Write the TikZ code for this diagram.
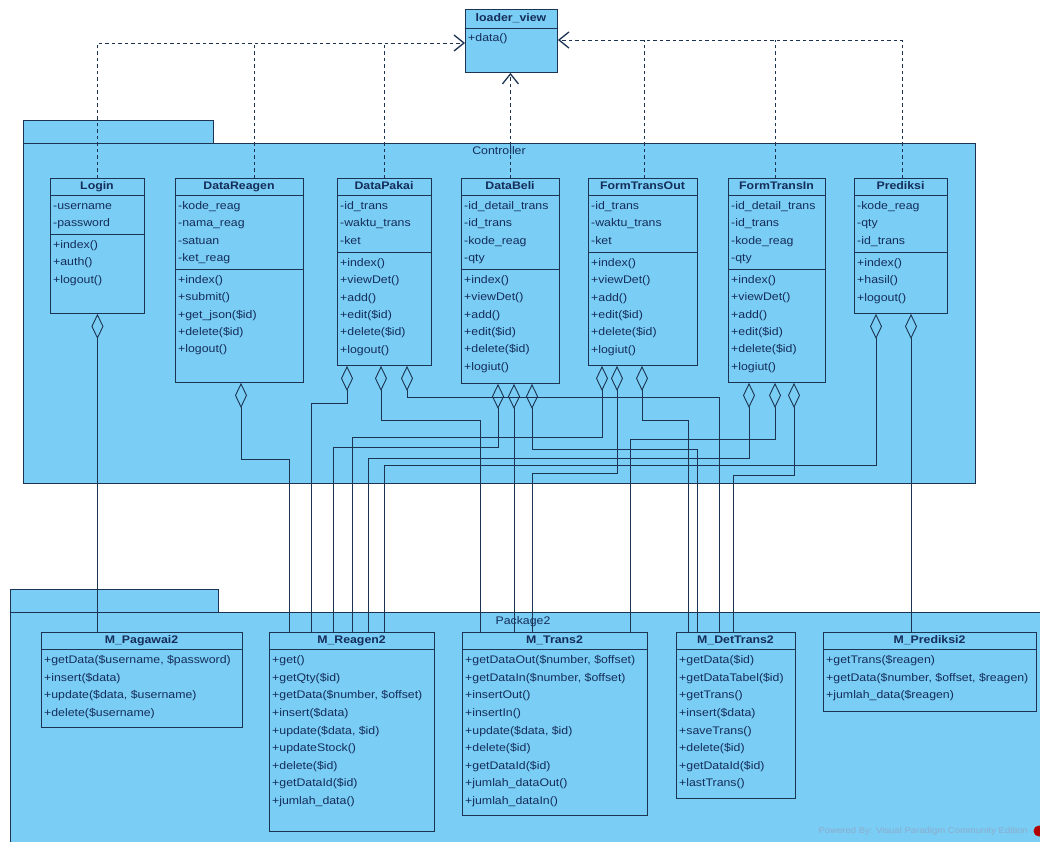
\documentclass[tikz,border=0pt]{standalone}
\usepackage{fontspec}
\newfontfamily\umlf{Liberation Sans}[FakeStretch=1.12]
\usetikzlibrary{arrows.meta,calc}
\definecolor{fillc}{RGB}{122,205,244}
\definecolor{linec}{RGB}{28,52,82}
\definecolor{txtc}{RGB}{20,45,90}
\definecolor{wmc}{RGB}{140,172,205}
\tikzset{
  clsbox/.style={draw=linec, fill=fillc, line width=0.9pt, inner sep=0pt},
  clstitle/.style={font=\umlf\bfseries\fontsize{11}{13}\selectfont, text=txtc, inner sep=0pt, text height=8pt, text depth=2.5pt},
  rowtxt/.style={font=\umlf\fontsize{11}{13}\selectfont, text=txtc, anchor=west, inner sep=0pt, text height=8pt, text depth=2.5pt},
  sepl/.style={draw=linec, line width=0.9pt},
  pkgst/.style={draw=linec, fill=fillc, line width=0.9pt},
  pkgbox/.style={draw=linec, fill=fillc, line width=0.9pt, inner sep=0pt},
  pkglabel/.style={font=\umlf\fontsize{11}{13}\selectfont, text=txtc, inner sep=0pt},
  dep/.style={draw=linec, line width=0.8pt, dash pattern=on 3.5pt off 3pt},
  deparrow/.style={-{Straight Barb[length=10pt,width=16pt,line width=1.3pt]}},
  agg/.style={draw=linec, line width=0.9pt, {Diamond[open,length=25pt,width=12pt,line width=0.9pt]}-},
}
\newcommand\ucls[6]{%
  \node[clsbox,minimum width={#4-#2},minimum height={#5-#3},anchor=north west] (#1) at (#2,#3) {};
  \node[clstitle] at ({(#2+#4)/2},{#3+8.5}) {#6};
  \draw[sepl] (#2,{#3+17}) -- (#4,{#3+17});}
\newcommand\clsep[3]{\draw[sepl] (#1,#3) -- (#2,#3);}
\newcommand\rowsat[4]{\foreach \t [count=\i from 0] in {#4}{\node[rowtxt] at ({#1+3},{#2+\i*#3}) {\t};}}
\begin{document}
\begin{tikzpicture}[x=1pt,y=-1pt]
\fill[white] (0,0) rectangle (1040,841);
\clip (0,0) rectangle (1040,841);
% packages
\draw[pkgst] (23,120) rectangle (213,143);
\node[pkgbox, minimum width=952, minimum height=340, anchor=north west] (ctrl) at (23,143) {};
\node[pkglabel] (ctrlLbl) at (499,151) {Controller};
\draw[pkgst] (10,589) rectangle (218,612);
\node[pkgbox, minimum width=1040, minimum height=240, anchor=north west] (pkg2) at (10,612) {};
\node[pkglabel] (pkg2Lbl) at (523,622) {Package2};
% watermark
\node[font=\umlf\fontsize{8.5}{10}\selectfont, text=wmc, anchor=east, inner sep=0pt] (wm) at (1028,831) {Powered By: Visual Paradigm Community Edition};
\fill[red!70!black] (1039,831) circle (5.5);
% loader_view
\node[clsbox,minimum width=92,minimum height=63,anchor=north west] (lv) at (465,9) {};
\node[clstitle] at (511,18.5) {loader\_view};
\draw[sepl] (465,28) -- (557,28);
\rowsat{465}{39}{17.4}{+data()}
\coordinate (lvL) at ($(lv.north west)+(0,34)$);
\coordinate (lvR) at ($(lv.north east)+(0,31)$);
% controller classes
\ucls{Login}{50}{178}{144}{313}{Login}
\clsep{50}{144}{234}
\rowsat{50}{206.5}{17.4}{-username,-password}
\rowsat{50}{245.5}{17.4}{+index(),+auth(),+logout()}

\ucls{DataReagen}{175}{178}{303}{382}{DataReagen}
\clsep{175}{303}{269}
\rowsat{175}{206.5}{17.4}{-kode\_reag,-nama\_reag,-satuan,-ket\_reag}
\rowsat{175}{280.5}{17.4}{+index(),+submit(),+get\_json(\$id),+delete(\$id),+logout()}

\ucls{DataPakai}{337}{178}{431}{365}{DataPakai}
\clsep{337}{431}{252}
\rowsat{337}{206.5}{17.4}{-id\_trans,-waktu\_trans,-ket}
\rowsat{337}{263.5}{17.4}{+index(),+viewDet(),+add(),+edit(\$id),+delete(\$id),+logout()}

\ucls{DataBeli}{461}{178}{559}{383}{DataBeli}
\clsep{461}{559}{269}
\rowsat{461}{206.5}{17.4}{-id\_detail\_trans,-id\_trans,-kode\_reag,-qty}
\rowsat{461}{280.5}{17.4}{+index(),+viewDet(),+add(),+edit(\$id),+delete(\$id),+logiut()}

\ucls{FormTransOut}{588}{178}{697}{365}{FormTransOut}
\clsep{588}{697}{252}
\rowsat{588}{206.5}{17.4}{-id\_trans,-waktu\_trans,-ket}
\rowsat{588}{263.5}{17.4}{+index(),+viewDet(),+add(),+edit(\$id),+delete(\$id),+logiut()}

\ucls{FormTransIn}{728}{178}{825}{382}{FormTransIn}
\clsep{728}{825}{269}
\rowsat{728}{206.5}{17.4}{-id\_detail\_trans,-id\_trans,-kode\_reag,-qty}
\rowsat{728}{280.5}{17.4}{+index(),+viewDet(),+add(),+edit(\$id),+delete(\$id),+logiut()}

\ucls{Prediksi}{854}{178}{947}{313}{Prediksi}
\clsep{854}{947}{252}
\rowsat{854}{206.5}{17.4}{-kode\_reag,-qty,-id\_trans}
\rowsat{854}{263.5}{17.4}{+index(),+hasil(),+logout()}

% model classes
\ucls{MPeg}{41}{632}{242}{727}{M\_Pagawai2}
\rowsat{41}{661}{17.6}{{+getData(\$username, \$password)},{+insert(\$data)},{+update(\$data, \$username)},{+delete(\$username)}}

\ucls{MReagen}{269}{632}{434}{831}{M\_Reagen2}
\rowsat{269}{661}{17.6}{{+get()},{+getQty(\$id)},{+getData(\$number, \$offset)},{+insert(\$data)},{+update(\$data, \$id)},{+updateStock()},{+delete(\$id)},{+getDataId(\$id)},{+jumlah\_data()}}

\ucls{MTrans}{462}{632}{647}{815}{M\_Trans2}
\rowsat{462}{661}{17.6}{{+getDataOut(\$number, \$offset)},{+getDataIn(\$number, \$offset)},{+insertOut()},{+insertIn()},{+update(\$data, \$id)},{+delete(\$id)},{+getDataId(\$id)},{+jumlah\_dataOut()},{+jumlah\_dataIn()}}

\ucls{MDet}{676}{632}{795}{798}{M\_DetTrans2}
\rowsat{676}{661}{17.6}{{+getData(\$id)},{+getDataTabel(\$id)},{+getTrans()},{+insert(\$data)},{+saveTrans()},{+delete(\$id)},{+getDataId(\$id)},{+lastTrans()}}

\ucls{MPred}{823}{632}{1036}{711}{M\_Prediksi2}
\rowsat{823}{661}{17.6}{{+getTrans(\$reagen)},{+getData(\$number, \$offset, \$reagen)},{+jumlah\_data(\$reagen)}}

% dependencies
\draw[dep,deparrow] (Login.north) |- (lvL);
\draw[dep] (254,0 |- DataReagen.north) -- (254,0 |- lvL);
\draw[dep] (DataPakai.north) -- (DataPakai.north |- lvL);
\draw[dep,deparrow] (DataBeli.north) -- (DataBeli.north |- lv.south);
\draw[dep,deparrow] (902,0 |- Prediksi.north) |- (lvR);
\draw[dep] (644,0 |- FormTransOut.north) -- (644,0 |- lvR);
\draw[dep] (775,0 |- FormTransIn.north) -- (775,0 |- lvR);

% aggregations
\draw[agg] (Login.south) -- (Login.south |- MPeg.north);
\draw[agg] (241,0 |- DataReagen.south) -- (241,459) -| (289,0 |- MReagen.north);
\draw[agg] (347,0 |- DataPakai.south) -- (347,403) -| (311,0 |- MReagen.north);
\draw[agg] (381,0 |- DataPakai.south) -- (381,420) -| (480,0 |- MTrans.north);
\draw[agg] (407,0 |- DataPakai.south) -- (407,397) -| (719,0 |- MDet.north);
\draw[agg] (498,0 |- DataBeli.south) -- (498,447) -| (333,0 |- MReagen.north);
\draw[agg] (514,0 |- DataBeli.south) -- (514,0 |- MTrans.north);
\draw[agg] (532,0 |- DataBeli.south) -- (532,449) -| (697,0 |- MDet.north);
\draw[agg] (602,0 |- FormTransOut.south) -- (602,437) -| (352,0 |- MReagen.north);
\draw[agg] (617,0 |- FormTransOut.south) -- (617,473) -| (532,0 |- MTrans.north);
\draw[agg] (642,0 |- FormTransOut.south) -- (642,420) -| (688,0 |- MDet.north);
\draw[agg] (749,0 |- FormTransIn.south) -- (749,458) -| (368,0 |- MReagen.north);
\draw[agg] (775,0 |- FormTransIn.south) -- (775,439) -| (630,0 |- MTrans.north);
\draw[agg] (794,0 |- FormTransIn.south) -- (794,475) -| (733,0 |- MDet.north);
\draw[agg] (876,0 |- Prediksi.south) -- (876,465) -| (384,0 |- MReagen.north);
\draw[agg] (911,0 |- Prediksi.south) -- (911,0 |- MPred.north);
\end{tikzpicture}
\end{document}
